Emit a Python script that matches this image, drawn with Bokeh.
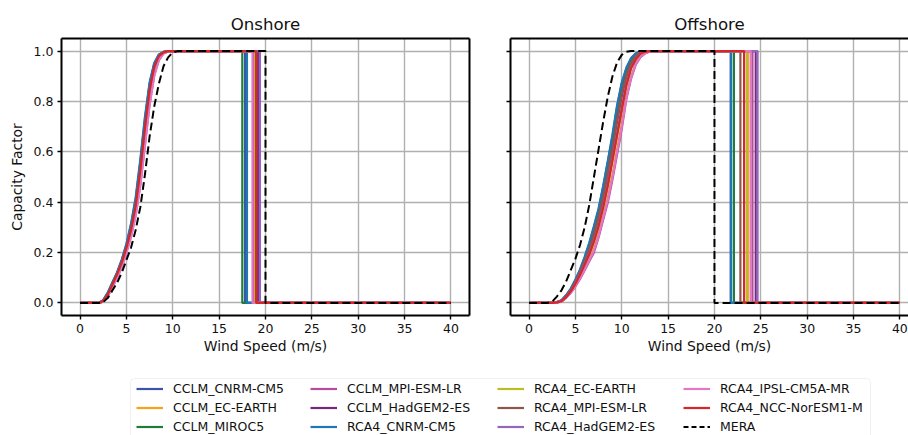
from bokeh.plotting import figure
from bokeh.models import (Range1d, FixedTicker, NumeralTickFormatter, LinearAxis,
                          Legend, LegendItem, BoxAnnotation)
from bokeh.layouts import column, row
from bokeh.embed import file_html
from bokeh.resources import INLINE

FONT = "DejaVu Sans"
TEXT = "#111111"

MODELS = ["CCLM_CNRM-CM5", "CCLM_EC-EARTH", "CCLM_MIROC5", "CCLM_MPI-ESM-LR",
          "CCLM_HadGEM2-ES", "RCA4_CNRM-CM5", "RCA4_EC-EARTH", "RCA4_MPI-ESM-LR",
          "RCA4_HadGEM2-ES", "RCA4_IPSL-CM5A-MR", "RCA4_NCC-NorESM1-M", "MERA"]
COLORS = ["#3b55a4", "#f7a21b", "#1e7d3c", "#b34d9e", "#742a7d", "#1f77b4",
          "#bcbd22", "#8c564b", "#9467bd", "#e377c2", "#d62728", "black"]

# wind speeds (m/s) over the ramp part of each panel
ON_SPEED = [2.0, 2.5, 3.0, 3.5, 4.0, 4.5, 5.0, 5.5, 6.0, 6.5, 7.0, 7.5, 8.0, 8.5,
            9.0, 9.5, 10.0, 10.5]
OFF_SPEED = [2.0, 2.5, 3.0, 3.5, 4.0, 4.5, 5.0, 5.5, 6.0, 6.5, 7.0, 7.5, 8.0, 8.5,
             9.0, 9.5, 10.0, 10.5, 11.0, 11.5, 12.0, 12.5, 13.0, 13.5]

# Onshore capacity factor along ON_SPEED
ON_CCLM_CNRM = [0, 0.01, 0.04, 0.08, 0.12, 0.17, 0.23, 0.31, 0.41, 0.56, 0.73, 0.87, 0.95, 0.985, 0.997, 1.0, 1.0, 1.0]
ON_CCLM_EC = [0, 0.008, 0.035, 0.075, 0.115, 0.16, 0.22, 0.29, 0.39, 0.53, 0.70, 0.85, 0.94, 0.98, 0.995, 1.0, 1.0, 1.0]
ON_CCLM_MIROC = [0, 0.009, 0.037, 0.077, 0.117, 0.165, 0.225, 0.30, 0.40, 0.545, 0.715, 0.86, 0.945, 0.983, 0.996, 1.0, 1.0, 1.0]
ON_CCLM_MPI = [0, 0.005, 0.027, 0.065, 0.10, 0.145, 0.20, 0.265, 0.35, 0.47, 0.63, 0.79, 0.905, 0.965, 0.99, 0.998, 1.0, 1.0]
ON_CCLM_HAD = [0, 0.006, 0.03, 0.07, 0.11, 0.155, 0.21, 0.28, 0.37, 0.50, 0.67, 0.82, 0.925, 0.975, 0.993, 1.0, 1.0, 1.0]
ON_RCA_CNRM = [0, 0.011, 0.042, 0.082, 0.122, 0.172, 0.235, 0.315, 0.42, 0.57, 0.74, 0.875, 0.953, 0.987, 0.997, 1.0, 1.0, 1.0]
ON_RCA_EC = [0, 0.006, 0.031, 0.071, 0.111, 0.157, 0.213, 0.283, 0.375, 0.505, 0.675, 0.825, 0.928, 0.976, 0.994, 1.0, 1.0, 1.0]
ON_RCA_MPI = [0, 0.007, 0.032, 0.072, 0.112, 0.158, 0.215, 0.285, 0.38, 0.515, 0.685, 0.835, 0.932, 0.978, 0.994, 1.0, 1.0, 1.0]
ON_RCA_HAD = [0, 0.006, 0.029, 0.068, 0.106, 0.15, 0.205, 0.273, 0.36, 0.485, 0.65, 0.805, 0.915, 0.97, 0.992, 0.999, 1.0, 1.0]
ON_RCA_IPSL = [0, 0.005, 0.026, 0.063, 0.098, 0.142, 0.197, 0.262, 0.345, 0.465, 0.625, 0.785, 0.90, 0.963, 0.99, 0.998, 1.0, 1.0]
ON_RCA_NCC = [0, 0.008, 0.034, 0.074, 0.114, 0.16, 0.218, 0.29, 0.385, 0.525, 0.695, 0.845, 0.938, 0.98, 0.995, 1.0, 1.0, 1.0]
ON_MERA = [0, 0.003, 0.02, 0.05, 0.08, 0.12, 0.17, 0.22, 0.29, 0.38, 0.51, 0.66, 0.78, 0.87, 0.94, 0.975, 0.995, 1.0]

# Offshore capacity factor along OFF_SPEED
OFF_CCLM_CNRM = [0, 0, 0.003, 0.01, 0.03, 0.055, 0.09, 0.13, 0.18, 0.235, 0.30, 0.37, 0.46, 0.56, 0.66, 0.78, 0.87, 0.93, 0.97, 0.99, 0.998, 1.0, 1.0, 1.0]
OFF_CCLM_EC = [0, 0, 0.002, 0.006, 0.021, 0.042, 0.068, 0.10, 0.137, 0.175, 0.215, 0.275, 0.345, 0.42, 0.51, 0.61, 0.71, 0.82, 0.90, 0.95, 0.978, 0.992, 0.998, 1.0]
OFF_CCLM_MIROC = [0, 0, 0.003, 0.009, 0.028, 0.052, 0.086, 0.125, 0.17, 0.22, 0.283, 0.35, 0.435, 0.53, 0.63, 0.74, 0.84, 0.91, 0.955, 0.983, 0.996, 1.0, 1.0, 1.0]
OFF_CCLM_MPI = [0, 0, 0.002, 0.005, 0.02, 0.04, 0.065, 0.095, 0.13, 0.165, 0.20, 0.26, 0.33, 0.40, 0.49, 0.59, 0.69, 0.81, 0.89, 0.945, 0.975, 0.99, 0.998, 1.0]
OFF_CCLM_HAD = [0, 0, 0.002, 0.008, 0.026, 0.05, 0.082, 0.12, 0.163, 0.21, 0.27, 0.335, 0.415, 0.51, 0.61, 0.72, 0.82, 0.90, 0.95, 0.98, 0.995, 1.0, 1.0, 1.0]
OFF_RCA_CNRM = [0, 0, 0.003, 0.011, 0.031, 0.057, 0.092, 0.133, 0.183, 0.24, 0.305, 0.375, 0.465, 0.565, 0.67, 0.785, 0.875, 0.935, 0.972, 0.99, 0.998, 1.0, 1.0, 1.0]
OFF_RCA_EC = [0, 0, 0.002, 0.007, 0.023, 0.045, 0.075, 0.11, 0.15, 0.19, 0.24, 0.30, 0.375, 0.46, 0.56, 0.66, 0.76, 0.86, 0.93, 0.965, 0.988, 0.997, 1.0, 1.0]
OFF_RCA_MPI = [0, 0, 0.003, 0.008, 0.027, 0.051, 0.084, 0.122, 0.166, 0.215, 0.276, 0.342, 0.425, 0.52, 0.62, 0.73, 0.83, 0.905, 0.952, 0.981, 0.995, 1.0, 1.0, 1.0]
OFF_RCA_HAD = [0, 0, 0.002, 0.007, 0.024, 0.047, 0.078, 0.114, 0.155, 0.197, 0.248, 0.31, 0.387, 0.475, 0.575, 0.675, 0.775, 0.87, 0.935, 0.968, 0.99, 0.998, 1.0, 1.0]
OFF_RCA_IPSL = [0, 0, 0.002, 0.005, 0.02, 0.04, 0.066, 0.097, 0.133, 0.17, 0.208, 0.265, 0.337, 0.41, 0.50, 0.60, 0.70, 0.815, 0.895, 0.948, 0.977, 0.991, 0.998, 1.0]
OFF_RCA_NCC = [0, 0, 0.002, 0.007, 0.023, 0.046, 0.076, 0.112, 0.152, 0.193, 0.244, 0.305, 0.38, 0.467, 0.567, 0.667, 0.767, 0.865, 0.932, 0.967, 0.989, 0.997, 1.0, 1.0]
OFF_MERA = [0, 0.005, 0.025, 0.05, 0.085, 0.13, 0.175, 0.23, 0.30, 0.39, 0.50, 0.61, 0.72, 0.82, 0.90, 0.955, 0.985, 0.997, 1.0, 1.0, 1.0, 1.0, 1.0, 1.0]

# cut-out wind speeds (m/s), in MODELS order
ON_CUTOUT = [17.8, 18.8, 17.5, 18.7, 19.2, 18.0, 18.9, 19.0, 19.4, 18.6, 19.0, 20.0]
OFF_CUTOUT = [21.75, 23.6, 22.1, 24.1, 24.45, 21.8, 23.5, 22.8, 24.65, 23.9, 23.2, 20.0]

MAX_SPEED = 40.0

ON_CF = [ON_CCLM_CNRM, ON_CCLM_EC, ON_CCLM_MIROC, ON_CCLM_MPI, ON_CCLM_HAD, ON_RCA_CNRM,
         ON_RCA_EC, ON_RCA_MPI, ON_RCA_HAD, ON_RCA_IPSL, ON_RCA_NCC, ON_MERA]
OFF_CF = [OFF_CCLM_CNRM, OFF_CCLM_EC, OFF_CCLM_MIROC, OFF_CCLM_MPI, OFF_CCLM_HAD, OFF_RCA_CNRM,
          OFF_RCA_EC, OFF_RCA_MPI, OFF_RCA_HAD, OFF_RCA_IPSL, OFF_RCA_NCC, OFF_MERA]

X_TICKS = [0, 5, 10, 15, 20, 25, 30, 35, 40]
Y_TICKS = [0.0, 0.2, 0.4, 0.6, 0.8, 1.0]

GRID = "#b0b0b0"
NAN = float("nan")


def style_axis(ax, labels=True):
    ax.axis_line_width = 2
    ax.axis_line_color = "black"
    ax.major_tick_line_width = 1.4
    ax.major_tick_line_color = "black"
    ax.major_tick_in = 0
    ax.major_tick_out = 4
    ax.minor_tick_line_color = None
    ax.major_label_text_font = FONT
    if labels:
        ax.major_label_text_font_size = "12.5px"
        ax.major_label_text_color = TEXT
        ax.major_label_standoff = 4
    else:
        ax.major_label_text_font_size = "1px"
        ax.major_label_text_color = None
        ax.major_label_standoff = 0
    ax.axis_label_text_font = FONT
    ax.axis_label_text_font_size = "13.9px"
    ax.axis_label_text_font_style = "normal"
    ax.axis_label_text_color = TEXT


def blank_axis():
    ax = LinearAxis(ticker=FixedTicker(ticks=[]))
    ax.axis_line_width = 2
    ax.axis_line_color = "black"
    ax.major_tick_line_color = None
    ax.minor_tick_line_color = None
    ax.major_tick_in = 0
    ax.major_tick_out = 0
    ax.major_label_text_font_size = "1px"
    ax.major_label_text_color = None
    ax.major_label_standoff = 0
    return ax


def make_panel(title, speeds, cfs, cutouts, x_end, width, left, right, ylabel):
    p = figure(width=width, height=360, x_range=Range1d(-2, x_end),
               y_range=Range1d(-0.05, 1.05), toolbar_location=None,
               output_backend="svg", min_border_left=left, min_border_right=right,
               min_border_top=38, min_border_bottom=45)
    p.outline_line_color = None
    p.title.text = title
    p.title.align = "center"
    p.title.text_font = FONT
    p.title.text_font_size = "16.6px"
    p.title.text_font_style = "normal"
    p.title.text_color = TEXT
    p.xaxis.ticker = FixedTicker(ticks=X_TICKS)
    p.yaxis.ticker = FixedTicker(ticks=Y_TICKS)
    p.yaxis.formatter = NumeralTickFormatter(format="0.0")
    p.xaxis.axis_label = "Wind Speed (m/s)"
    style_axis(p.xaxis[0])
    style_axis(p.yaxis[0], labels=ylabel)
    p.xaxis.axis_label_standoff = 2
    if ylabel:
        p.yaxis.axis_label = "Capacity Factor"
        p.yaxis.axis_label_standoff = 6
    p.add_layout(blank_axis(), "above")
    p.xgrid.grid_line_color = GRID
    p.ygrid.grid_line_color = GRID
    p.xgrid.grid_line_width = 1.4
    p.ygrid.grid_line_width = 1.4
    for name, color, cf, cut in zip(MODELS, COLORS, cfs, cutouts):
        xs = [0.0] + list(speeds) + [cut, cut, MAX_SPEED]
        ys = [0.0] + list(cf) + [1.0, 0.0, 0.0]
        if name == "MERA":
            p.line(xs, ys, line_color=color, line_width=2, line_dash="8 4")
        else:
            p.line(xs, ys, line_color=color, line_width=2.2)
    return p


p1 = make_panel("Onshore", ON_SPEED, ON_CF, ON_CUTOUT, 42, 490, 61, 21, True)
p1.add_layout(blank_axis(), "right")
p2 = make_panel("Offshore", OFF_SPEED, OFF_CF, OFF_CUTOUT, 40.93, 418, 20, 0, False)

# legend strip
leg = figure(width=908, height=75, x_range=Range1d(0, 908), y_range=Range1d(0, 75),
             toolbar_location=None, output_backend="svg", min_border=0,
             x_axis_type=None, y_axis_type=None)
leg.outline_line_color = None
leg.add_layout(BoxAnnotation(left=130, right=870, bottom=-6, top=57,
                             fill_color="white", fill_alpha=1.0,
                             line_color="#d0d0d0", line_width=1, border_radius=4))
dummies = []
for name, color in zip(MODELS, COLORS):
    if name == "MERA":
        r = leg.line([NAN], [NAN], line_color=color, line_width=2, line_dash="5 3")
    else:
        r = leg.line([NAN], [NAN], line_color=color, line_width=2.2)
    dummies.append((name, r))

COL_X = [136, 310, 497, 683]
for c in range(4):
    items = [LegendItem(label=n, renderers=[r]) for n, r in dummies[c * 3:(c + 1) * 3]]
    lg = Legend(items=items, location=(COL_X[c], 0), orientation="vertical",
                padding=0, margin=0, spacing=2, glyph_width=27, glyph_height=17,
                label_height=17, label_standoff=10, label_text_font=FONT,
                label_text_font_size="12.5px", label_text_color=TEXT,
                border_line_color=None, background_fill_alpha=0)
    leg.add_layout(lg)

layout = column(row(p1, p2), leg)
open("out.html", "w").write(file_html(layout, INLINE))
